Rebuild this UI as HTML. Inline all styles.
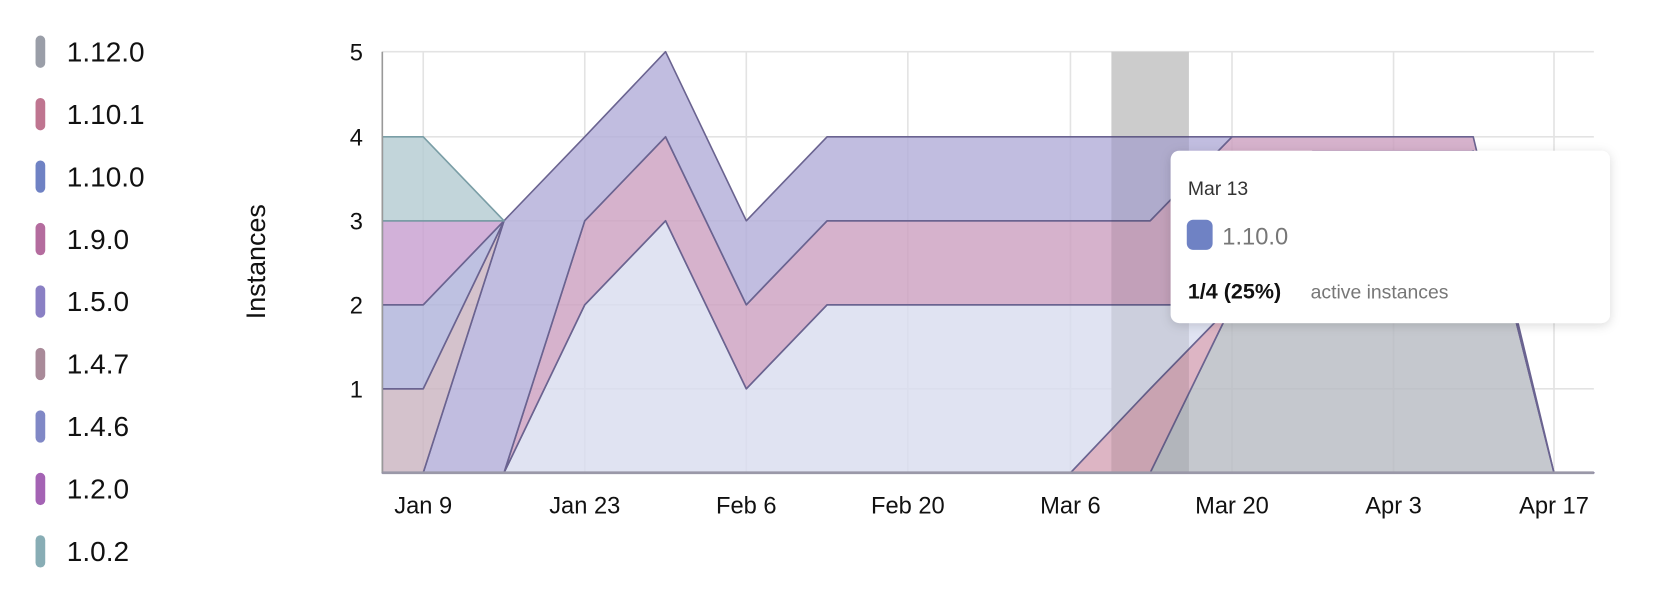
<!DOCTYPE html>
<html><head><meta charset="utf-8"><style>
html,body{margin:0;padding:0;background:#fff;width:1680px;height:592px;overflow:hidden}
svg{display:block;font-family:"Liberation Sans",sans-serif}
</style></head><body>
<svg width="1680" height="592" viewBox="0 0 1560 549.7" xmlns="http://www.w3.org/2000/svg">
<defs><filter id="sh" x="-10%" y="-10%" width="120%" height="130%"><feDropShadow dx="0" dy="2" stdDeviation="5" flood-color="#000" flood-opacity="0.15"/></filter></defs>
<g font-size="26" fill="#111">
<rect x="33" y="33" width="9" height="30" rx="4.5" fill="#9a9ea8"/><text x="62" y="57">1.12.0</text>
<rect x="33" y="91" width="9" height="30" rx="4.5" fill="#bf7590"/><text x="62" y="115">1.10.1</text>
<rect x="33" y="149" width="9" height="30" rx="4.5" fill="#6f82c4"/><text x="62" y="173">1.10.0</text>
<rect x="33" y="207" width="9" height="30" rx="4.5" fill="#b46c9e"/><text x="62" y="231">1.9.0</text>
<rect x="33" y="265" width="9" height="30" rx="4.5" fill="#8a80c4"/><text x="62" y="289">1.5.0</text>
<rect x="33" y="323" width="9" height="30" rx="4.5" fill="#a98a99"/><text x="62" y="347">1.4.7</text>
<rect x="33" y="381" width="9" height="30" rx="4.5" fill="#8088c6"/><text x="62" y="405">1.4.6</text>
<rect x="33" y="439" width="9" height="30" rx="4.5" fill="#a463b4"/><text x="62" y="463">1.2.0</text>
<rect x="33" y="497" width="9" height="30" rx="4.5" fill="#88adb5"/><text x="62" y="521">1.0.2</text>
</g>
<text transform="translate(246,243) rotate(-90)" text-anchor="middle" font-size="25" fill="#111">Instances</text>
<g stroke="#e3e3e3" stroke-width="1.5">
<line x1="355" y1="48" x2="1480" y2="48"/><line x1="355" y1="127" x2="1480" y2="127"/><line x1="355" y1="205" x2="1480" y2="205"/><line x1="355" y1="283" x2="1480" y2="283"/><line x1="355" y1="361" x2="1480" y2="361"/>
<line x1="393" y1="48" x2="393" y2="439"/><line x1="543" y1="48" x2="543" y2="439"/><line x1="693" y1="48" x2="693" y2="439"/><line x1="843" y1="48" x2="843" y2="439"/><line x1="994" y1="48" x2="994" y2="439"/><line x1="1144" y1="48" x2="1144" y2="439"/><line x1="1294" y1="48" x2="1294" y2="439"/><line x1="1443" y1="48" x2="1443" y2="439"/>
</g>
<rect x="1032" y="48" width="72" height="391" fill="#d9d9d9"/>
<g stroke="#6a6390" stroke-width="1.5" stroke-linejoin="round" fill-opacity="0.8">
<polygon fill="#b7bac2" points="355,439 1068,439 1144,283 1219,140 1294,140 1368,140 1443,439 1480,439"/>
<polygon fill="#d4a3b5" points="994,439 1068,361 1144,283 1068,439"/>
<polygon fill="#d8dcef" points="468,439 543,283 618,205 693,361 768,283 994,283 1068,283 1144,283 1068,361 994,439"/>
<polygon fill="#cc9fbf" points="468,439 543,205 618,127 693,283 768,205 1068,205 1144,127 1368,127 1443,439 1368,140 1144,283 1068,283 768,283 693,361 618,205 543,283"/>
<polygon fill="#b2acd8" points="393,439 468,205 543,127 618,48 693,205 768,127 1068,127 1144,127 1068,205 768,205 693,283 618,127 543,205 468,439"/>
<polygon fill="#c9b3bf" points="355,439 355,361 393,361 468,205 393,439"/>
<polygon fill="#aeb2d9" points="355,361 355,283 393,283 468,205 393,361"/>
<polygon fill="#c79dd0" points="355,283 355,205 393,205 468,205 393,283"/>
<polygon fill="#b3cbd1" stroke="#7a9ea6" points="355,205 355,127 393,127 468,205 393,205"/>
</g>
<rect x="1032" y="48" width="72" height="391" fill="#000" opacity="0.06"/>
<line x1="355" y1="48" x2="355" y2="439" stroke="#999" stroke-width="1.5"/>
<line x1="355" y1="439" x2="1480" y2="439" stroke="#9a98a8" stroke-width="2.5"/>
<g font-size="22" fill="#111" text-anchor="end">
<text x="337" y="56">5</text><text x="337" y="135">4</text><text x="337" y="213">3</text><text x="337" y="291">2</text><text x="337" y="369">1</text>
</g>
<g font-size="22" fill="#111" text-anchor="middle">
<text x="393" y="477">Jan 9</text><text x="543" y="477">Jan 23</text><text x="693" y="477">Feb 6</text><text x="843" y="477">Feb 20</text><text x="994" y="477">Mar 6</text><text x="1144" y="477">Mar 20</text><text x="1294" y="477">Apr 3</text><text x="1443" y="477">Apr 17</text>
</g>
<rect x="1087" y="140" width="408" height="160" rx="8" fill="#fff" filter="url(#sh)"/>
<text x="1103" y="181" font-size="18" fill="#333">Mar 13</text>
<rect x="1102" y="204" width="24" height="28" rx="6" fill="#6f82c4"/>
<text x="1135" y="227" font-size="22" fill="#777">1.10.0</text>
<text x="1103" y="277" font-size="20" font-weight="bold" fill="#111">1/4 (25%)</text>
<text x="1217" y="277" font-size="18" fill="#777">active instances</text>
</svg>
</body></html>
